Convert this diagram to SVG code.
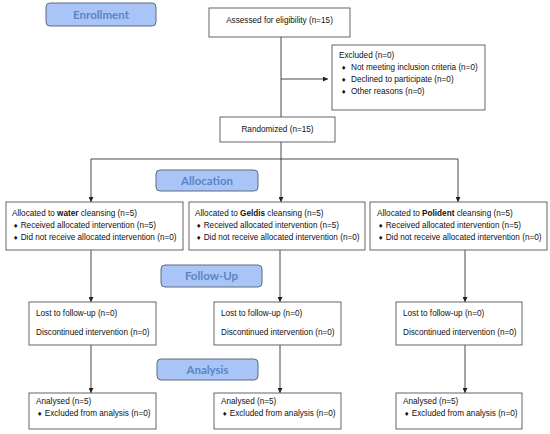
<svg xmlns="http://www.w3.org/2000/svg" width="550" height="434" viewBox="0 0 550 434">
<defs>
<style>
.box{fill:#fff;stroke:#555;stroke-width:0.9}
.lab{fill:#a9c5f7;stroke:#5f6a7e;stroke-width:1}
.lt{font-family:Lato,"Liberation Sans",sans-serif;font-weight:bold;font-size:11.5px;fill:#5b84c4;text-anchor:middle}
.t{font-family:"Liberation Sans",Arial,sans-serif;font-size:8.2px;fill:#111}
.d{font-family:"DejaVu Sans",sans-serif;font-size:6px}
.b{font-weight:bold}
.c{stroke:#333;stroke-width:0.9;fill:none}
</style>
<marker id="ah" viewBox="0 0 6 6" refX="6" refY="3" markerWidth="5" markerHeight="5" orient="auto" markerUnits="userSpaceOnUse">
<path d="M0,0 L6,3 L0,6 z" fill="#222"/>
</marker>
</defs>
<rect width="550" height="434" fill="#fff"/>
<g id="connectors">
<path class="c" d="M281,37 V117"/>
<path class="c" d="M281,79 H328" marker-end="url(#ah)"/>
<path class="c" d="M281,142 V159"/>
<path class="c" d="M91,159 H458"/>
<path class="c" d="M91,159 V202" marker-end="url(#ah)"/>
<path class="c" d="M281,159 V202" marker-end="url(#ah)"/>
<path class="c" d="M458,159 V202" marker-end="url(#ah)"/>
<path class="c" d="M91,250 V302" marker-end="url(#ah)"/>
<path class="c" d="M280,250 V302" marker-end="url(#ah)"/>
<path class="c" d="M465,250 V302" marker-end="url(#ah)"/>
<path class="c" d="M91,345 V393" marker-end="url(#ah)"/>
<path class="c" d="M280,345 V393" marker-end="url(#ah)"/>
<path class="c" d="M465,345 V393" marker-end="url(#ah)"/>
</g>
<g id="enrollment"><rect class="lab" x="46" y="3" width="110" height="23" rx="4"/><text class="lt" x="101" y="19">Enrollment</text></g>
<g id="allocation"><rect class="lab" x="156" y="170" width="102" height="21" rx="4"/><text class="lt" x="207" y="185">Allocation</text></g>
<g id="followup"><rect class="lab" x="161" y="265" width="101" height="22" rx="4"/><text class="lt" x="211.5" y="280">Follow-Up</text></g>
<g id="analysis"><rect class="lab" x="157" y="359" width="101" height="21" rx="4"/><text class="lt" x="207.5" y="374">Analysis</text></g>
<g id="assessed"><rect class="box" x="209" y="8" width="141" height="29"/><text class="t" x="279.5" y="23" text-anchor="middle">Assessed for eligibility (n=15)</text></g>
<g id="excluded"><rect class="box" x="332" y="45" width="153" height="65"/>
<text class="t" x="339" y="58">Excluded (n=0)</text>
<text class="t d" x="341" y="70">♦</text><text class="t" x="351" y="70">Not meeting inclusion criteria (n=0)</text>
<text class="t d" x="341" y="82">♦</text><text class="t" x="351" y="82">Declined to participate (n=0)</text>
<text class="t d" x="341" y="94">♦</text><text class="t" x="351" y="94">Other reasons (n=0)</text>
</g>
<g id="randomized"><rect class="box" x="220" y="117" width="115" height="25"/><text class="t" x="277.5" y="132" text-anchor="middle">Randomized (n=15)</text></g>
<g id="alloc-water"><rect class="box" x="6" y="202" width="177" height="48"/>
<text class="t" x="12" y="216">Allocated to <tspan class="b">water</tspan> cleansing (n=5)</text>
<text class="t" x="13" y="228"><tspan class="d">♦</tspan> Received allocated intervention (n=5)</text>
<text class="t" x="13" y="240"><tspan class="d">♦</tspan> Did not receive allocated intervention (n=0)</text>
</g>
<g id="alloc-geldis"><rect class="box" x="189" y="202" width="176" height="48"/>
<text class="t" x="195" y="216">Allocated to <tspan class="b">Geldis</tspan> cleansing (n=5)</text>
<text class="t" x="196" y="228"><tspan class="d">♦</tspan> Received allocated intervention (n=5)</text>
<text class="t" x="196" y="240"><tspan class="d">♦</tspan> Did not receive allocated intervention (n=0)</text>
</g>
<g id="alloc-polident"><rect class="box" x="370" y="202" width="177" height="48"/>
<text class="t" x="377" y="216">Allocated to <tspan class="b">Polident</tspan> cleansing (n=5)</text>
<text class="t" x="378" y="228"><tspan class="d">♦</tspan> Received allocated intervention (n=5)</text>
<text class="t" x="378" y="240"><tspan class="d">♦</tspan> Did not receive allocated intervention (n=0)</text>
</g>
<g id="fu-water"><rect class="box" x="29" y="302" width="127" height="43"/>
<text class="t" x="36" y="316">Lost to follow-up (n=0)</text>
<text class="t" x="36" y="335">Discontinued intervention (n=0)</text>
</g>
<g id="fu-geldis"><rect class="box" x="214" y="302" width="127" height="43"/>
<text class="t" x="221" y="316">Lost to follow-up (n=0)</text>
<text class="t" x="221" y="335">Discontinued intervention (n=0)</text>
</g>
<g id="fu-polident"><rect class="box" x="396" y="302" width="126" height="43"/>
<text class="t" x="403" y="316">Lost to follow-up (n=0)</text>
<text class="t" x="403" y="335">Discontinued intervention (n=0)</text>
</g>
<g id="an-water"><rect class="box" x="29" y="393" width="127" height="36"/>
<text class="t" x="36" y="404">Analysed (n=5)</text>
<text class="t" x="37" y="416"><tspan class="d">♦</tspan> Excluded from analysis (n=0)</text>
</g>
<g id="an-geldis"><rect class="box" x="214" y="393" width="127" height="36"/>
<text class="t" x="221" y="404">Analysed (n=5)</text>
<text class="t" x="222" y="416"><tspan class="d">♦</tspan> Excluded from analysis (n=0)</text>
</g>
<g id="an-polident"><rect class="box" x="396" y="393" width="126" height="36"/>
<text class="t" x="403" y="404">Analysed (n=5)</text>
<text class="t" x="404" y="416"><tspan class="d">♦</tspan> Excluded from analysis (n=0)</text>
</g>
</svg>
